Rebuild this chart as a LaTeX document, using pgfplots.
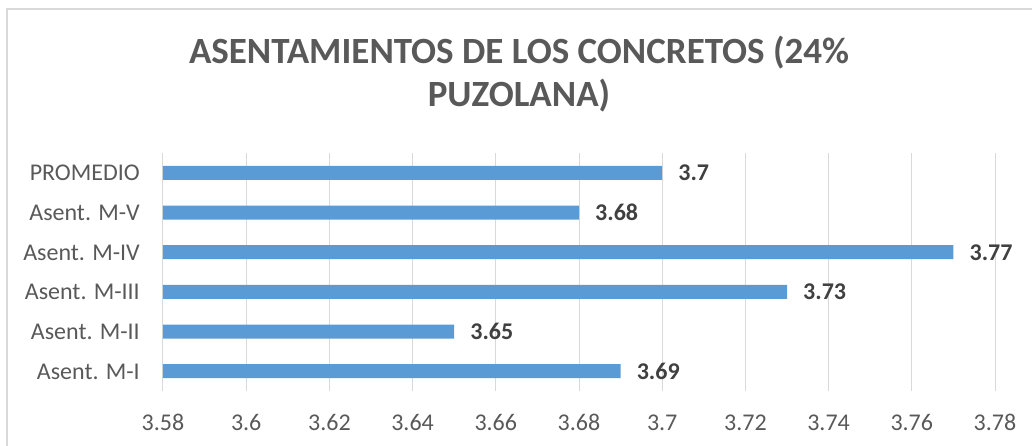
\documentclass[border=0pt]{standalone}
\usepackage{pgfplots}
\pgfplotsset{compat=1.18}
\usepackage{fontspec}
\setmainfont{Carlito}
\definecolor{barblue}{HTML}{5B9BD5}
\definecolor{txtgray}{HTML}{595959}
\definecolor{lblgray}{HTML}{404040}
\definecolor{gridgray}{HTML}{D9D9D9}
\begin{document}
\begin{tikzpicture}
\path[use as bounding box] (-163bp,-55bp) rectangle (869bp,391bp);
\draw[gridgray, line width=1.2bp] (-156bp,-60bp) -- (-156bp,382bp) -- (875bp,382bp);
\begin{axis}[
  at={(0,0)}, anchor=south west,
  scale only axis,
  width=832bp, height=238bp,
  xmin=3.58, xmax=3.78,
  ymin=-0.5, ymax=5.5,
  xtick={3.58,3.60,...,3.781},
  ytick={0,1,2,3,4,5},
  yticklabels={Asent. M-I,Asent. M-II,Asent. M-III,Asent. M-IV,Asent. M-V,PROMEDIO\hspace{5bp}},
  axis line style={draw=none},
  major tick length=0pt,
  xmajorgrids, grid style={gridgray, line width=1bp},
  /pgf/number format/assume math mode=true,
  /pgf/number format/precision=2,
  xticklabel style={font=\fontsize{24bp}{28bp}\selectfont, text=txtgray, anchor=base, inner sep=0pt, yshift=-39bp},
  yticklabel style={font=\fontsize{24bp}{28bp}\selectfont, text=txtgray, anchor=base east, inner sep=0pt, xshift=-23bp, yshift=-8bp},
  xbar, bar width=14bp,
  nodes near coords,
  nodes near coords style={font=\bfseries\fontsize{24bp}{28bp}\selectfont, text=lblgray, anchor=base west, inner sep=0pt, xshift=16bp, yshift=-8bp},
  clip=false,
]
\addplot[fill=barblue, draw=none] coordinates {
  (3.69,0) (3.65,1) (3.73,2) (3.77,3) (3.68,4) (3.70,5)
};
\end{axis}
\node[anchor=base, text=txtgray, font=\bfseries\fontsize{37bp}{44bp}\selectfont, inner sep=0pt] at (356bp,327bp) {ASENTAMIENTOS DE LOS CONCRETOS (24\%};
\node[anchor=base, text=txtgray, font=\bfseries\fontsize{37bp}{44bp}\selectfont, inner sep=0pt] at (356bp,284bp) {PUZOLANA)};
\end{tikzpicture}
\end{document}
